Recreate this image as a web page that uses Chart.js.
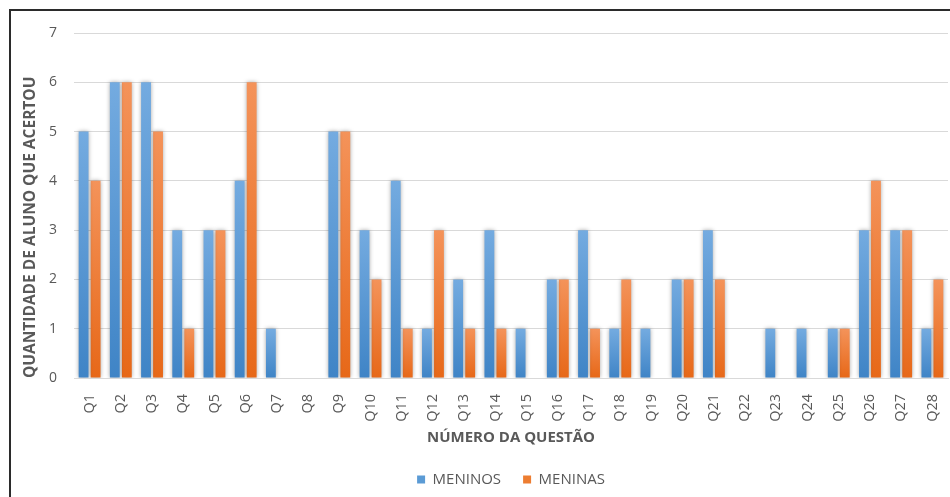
<!DOCTYPE html>
<html>
<head>
<meta charset="utf-8">
<script src="https://cdn.jsdelivr.net/npm/chart.js@4.4.1/dist/chart.umd.min.js"></script>
<style>
  html, body { margin: 0; padding: 0; background: #fff; }
  #wrap { position: relative; width: 950px; height: 497px; overflow: hidden; }
  #frame { position: absolute; left: 9px; top: 9px; width: 1000px; height: 600px;
           border: 2px solid #2b2b2b; box-sizing: border-box; }
  canvas { position: absolute; left: 0; top: 0; }
</style>
</head>
<body>
<div id="wrap">
  <div id="frame"></div>
  <canvas id="c" width="950" height="497"></canvas>
</div>
<script>
// Questions Q1..Q28
const questions = ['Q1','Q2','Q3','Q4','Q5','Q6','Q7','Q8','Q9','Q10','Q11','Q12','Q13','Q14',
                   'Q15','Q16','Q17','Q18','Q19','Q20','Q21','Q22','Q23','Q24','Q25','Q26','Q27','Q28'];
// Number of correct answers per question
const meninos = [5,6,6,3,3,4,1,0,5,3,4,1,2,3,1,2,3,1,1,2,3,0,1,1,1,3,3,1];
const meninas = [4,6,5,1,3,6,0,0,5,2,1,3,1,1,0,2,1,2,0,2,2,0,0,0,1,4,3,2];
const yTicks = [0,1,2,3,4,5,6,7];

const TEXT = '#595959';
const FONT = "'Open Sans', sans-serif";

// vertical gradient per bar: lighter at the top, deeper at the base
function barFill(light, base, dark) {
  return function (ctx) {
    const chart = ctx.chart;
    if (!chart.chartArea || ctx.type !== 'data' || !ctx.raw) return base;
    const y = chart.scales.y;
    const top = y.getPixelForValue(ctx.raw);
    const bottom = y.getPixelForValue(0);
    const g = chart.ctx.createLinearGradient(0, top, 0, bottom);
    g.addColorStop(0, light);
    g.addColorStop(1, dark);
    return g;
  };
}

// soft halo behind the bars
const barShadow = {
  id: 'barShadow',
  beforeDatasetsDraw(chart) {
    const c = chart.ctx;
    c.save();
    c.shadowColor = 'rgba(0,0,0,0.35)';
    c.shadowBlur = 4;
    c.shadowOffsetX = 0;
    c.shadowOffsetY = 0;
  },
  afterDatasetsDraw(chart) { chart.ctx.restore(); }
};

new Chart(document.getElementById('c'), {
  type: 'bar',
  data: {
    labels: questions,
    datasets: [
      { label: 'MENINOS', data: meninos,
        backgroundColor: barFill('#74abe0', '#5b9bd5', '#3f84c6'),
        categoryPercentage: 0.77, barPercentage: 0.82 },
      { label: 'MENINAS', data: meninas,
        backgroundColor: barFill('#f4935a', '#ed7d31', '#e76818'),
        categoryPercentage: 0.77, barPercentage: 0.82 }
    ]
  },
  options: {
    responsive: false,
    animation: false,
    devicePixelRatio: 1,
    layout: { padding: { top: 33, right: 2, bottom: 0, left: 0 } },
    plugins: {
      tooltip: { enabled: false },
      legend: {
        position: 'bottom',
        fullSize: false,
        labels: {
          color: TEXT,
          font: { family: FONT, size: 15 },
          boxWidth: 8, boxHeight: 8,
          padding: 22,
          generateLabels(chart) {
            const cols = ['#5b9bd5', '#ed7d31'];
            return chart.data.datasets.map((d, i) => ({
              text: d.label, fillStyle: cols[i], strokeStyle: cols[i],
              lineWidth: 0, hidden: false, datasetIndex: i, fontColor: TEXT
            }));
          }
        }
      }
    },
    scales: {
      x: {
        grid: { display: false },
        border: { display: true, color: '#d9d9d9', width: 1 },
        ticks: { color: TEXT, font: { family: FONT, size: 14.5 }, minRotation: 90, maxRotation: 90, padding: 8 },
        title: { display: true, text: 'NÚMERO DA QUESTÃO', color: TEXT,
                 font: { family: FONT, size: 15, weight: 'bold' }, padding: { top: 0, bottom: 3 } },
        afterFit(scale) {
          scale.height = 72;
          scale.paddingLeft = 0;
          scale.paddingRight = 0;
        }
      },
      y: {
        min: 0, max: 7,
        afterBuildTicks(scale) { scale.ticks = yTicks.map(v => ({ value: v })); },
        grid: { color: '#d9d9d9', lineWidth: 1, drawTicks: false },
        border: { display: false },
        ticks: { color: TEXT, font: { family: FONT, size: 14 }, padding: 17 },
        title: { display: true, text: 'QUANTIDADE DE ALUNO QUE ACERTOU', color: TEXT, align: 'start',
                 font: { family: FONT, size: 15.5, weight: 'bold' }, padding: { top: 21, bottom: 0 } },
        afterFit(scale) { scale.width = 74; }
      }
    }
  },
  plugins: [barShadow]
});
</script>
</body>
</html>
